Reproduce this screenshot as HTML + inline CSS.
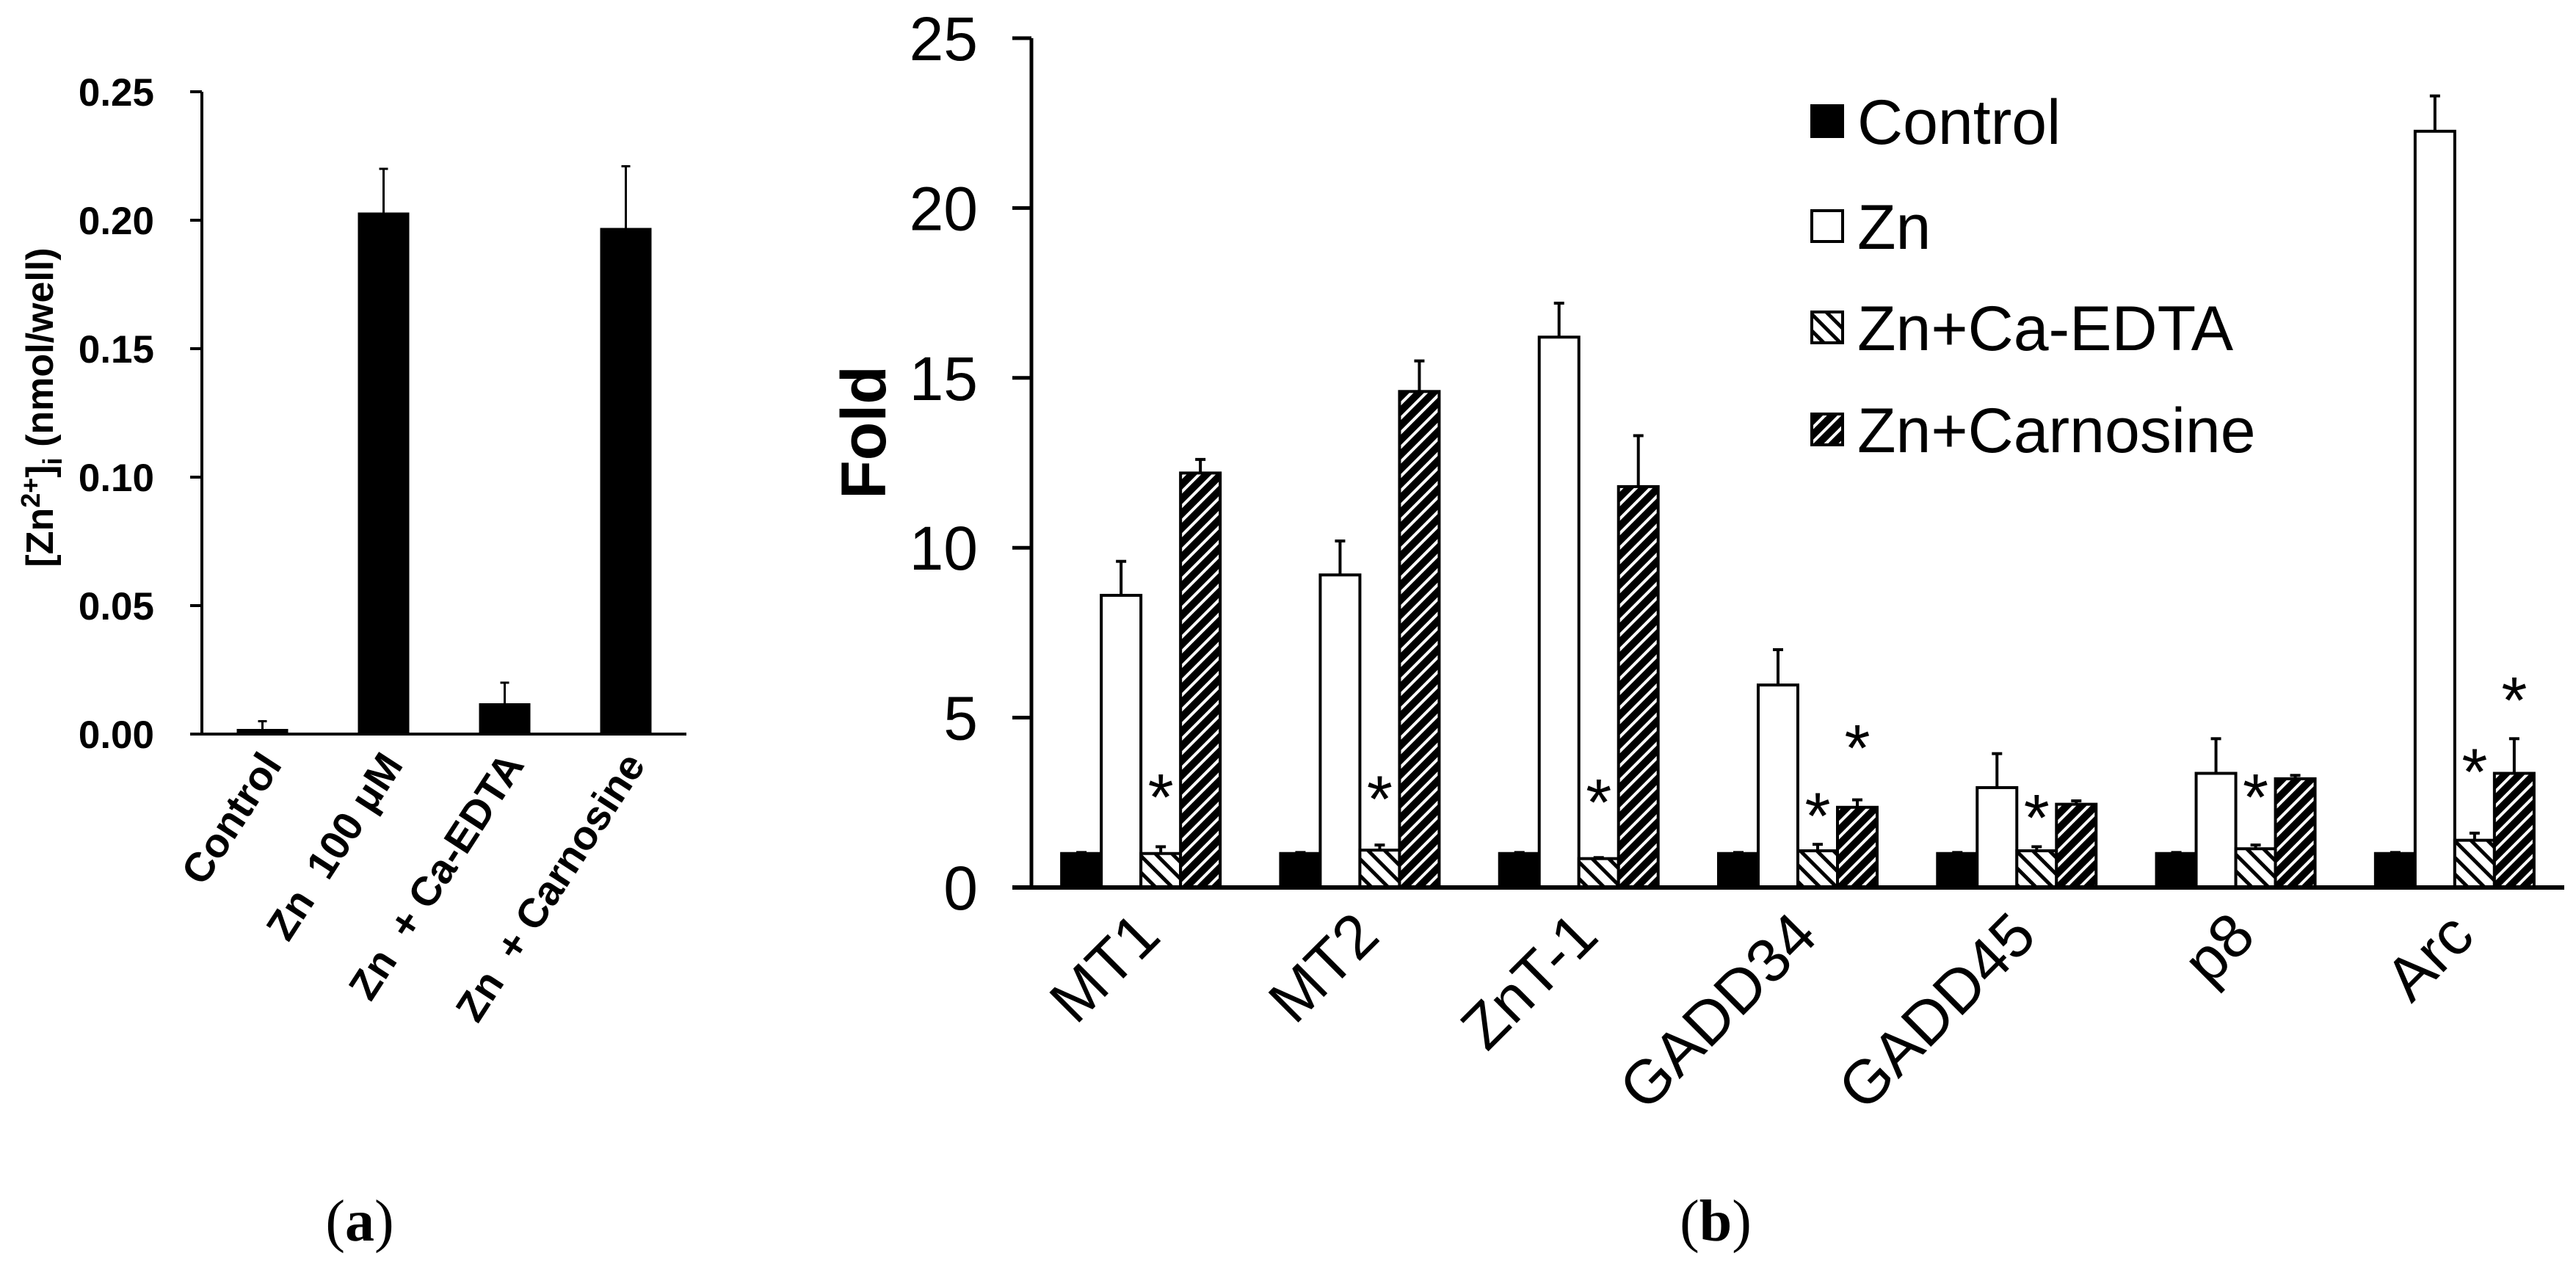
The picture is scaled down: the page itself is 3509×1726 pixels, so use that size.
<!DOCTYPE html>
<html><head><meta charset="utf-8"><style>
html,body{margin:0;padding:0;background:#fff;}
svg{display:block;font-family:"Liberation Sans",Arial,sans-serif;}
</style></head><body>
<svg id="fig" width="3509" height="1726" viewBox="0 0 3509 1726" xmlns="http://www.w3.org/2000/svg">
<defs>
<pattern id="hatchBack" patternUnits="userSpaceOnUse" width="16" height="16" patternTransform="rotate(-45)">
<rect width="16" height="16" fill="#fff"/><rect x="0" y="0" width="5" height="16" fill="#000"/></pattern>
<pattern id="hatchFwd" patternUnits="userSpaceOnUse" width="14" height="14" patternTransform="rotate(45)">
<rect width="14" height="14" fill="#000"/><rect x="0" y="0" width="4" height="14" fill="#fff"/></pattern>
</defs>
<g id="panelA"></g>
<g id="panelB"></g>
<text x="490" y="1690" font-family="Liberation Serif,serif" font-size="80" text-anchor="middle">(<tspan font-weight="bold">a</tspan>)</text>
<text x="2337" y="1690" font-family="Liberation Serif,serif" font-size="80" text-anchor="middle">(<tspan font-weight="bold">b</tspan>)</text>
</svg>
<script>
// Panel A data
const aCategories = ["Control", "Zn\u00a0\u00a0100 μM", "Zn\u00a0\u00a0+ Ca-EDTA", "Zn\u00a0\u00a0+ Carnosine"];
const aValues = [0.002, 0.203, 0.012, 0.197];
const aErrTop = [0.005, 0.220, 0.020, 0.221];
const aTicks = ["0.00", "0.05", "0.10", "0.15", "0.20", "0.25"];

// Panel B data
const bCategories = ["MT1", "MT2", "ZnT-1", "GADD34", "GADD45", "p8", "Arc"];
const bSeries = ["Control", "Zn", "Zn+Ca-EDTA", "Zn+Carnosine"];
const bControl = [1, 1, 1, 1, 1, 1, 1];
const bZn = [8.6, 9.2, 16.2, 5.96, 2.94, 3.36, 22.26];
const bCaEDTA = [1.0, 1.1, 0.85, 1.08, 1.08, 1.14, 1.39];
const bCarnosine = [12.2, 14.6, 11.8, 2.36, 2.45, 3.2, 3.36];
const bControlErr = [1.03, 1.03, 1.03, 1.03, 1.03, 1.03, 1.03];
const bZnErr = [9.6, 10.2, 17.2, 7.0, 3.94, 4.38, 23.3];
const bCaEDTAErr = [1.2, 1.25, 0.88, 1.27, 1.2, 1.25, 1.6];
const bCarnosineErr = [12.6, 15.5, 13.3, 2.58, 2.55, 3.3, 4.38];
const bStarCa = [2.85, 2.8, 2.7, 2.3, 2.25, 2.85, 3.6];
const bStarCarn = [null, null, null, 4.3, null, null, 5.7];
const bTicks = ["0", "5", "10", "15", "20", "25"];

const NS = "http://www.w3.org/2000/svg";
function mk(parent, tag, attrs, text) {
  const el = document.createElementNS(NS, tag);
  for (const k in attrs) el.setAttribute(k, attrs[k]);
  if (text !== undefined) el.textContent = text;
  parent.appendChild(el);
  return el;
}

// ---- Panel A ----
(function(){
  const g = document.getElementById('panelA');
  const x0 = 275, x1 = 935, y0 = 1000, yTop = 125, vmax = 0.25;
  const ya = v => y0 - (v / vmax) * (y0 - yTop);
  const step = (x1 - x0) / aCategories.length;
  const xc = i => x0 + step * (i + 0.5);
  const bw = 70;
  let ax = mk(g, 'line', {x1: x0, y1: yTop, x2: x0, y2: y0, stroke: '#000', 'stroke-width': 4});
  
  
  ax = mk(g, 'line', {x1: x0 - 16, y1: y0, x2: x1, y2: y0, stroke: '#000', 'stroke-width': 4});
  
  
  aTicks.forEach((t) => {
    const y = ya(parseFloat(t));
    const tk = mk(g, 'line', {x1: x0 - 16, y1: y, x2: x0, y2: y, stroke: '#000', 'stroke-width': 4});
    
    
    const lb = mk(g, 'text', {x: 210, y: y + 19, 'font-size': 53, 'font-weight': 'bold', 'text-anchor': 'end'}, t);
    
    
  });
  aValues.forEach((v, i) => {
    const cx = xc(i);
    const e = mk(g, 'line', {x1: cx, y1: ya(aErrTop[i]), x2: cx, y2: ya(v), stroke: '#000', 'stroke-width': 3});
    
    
    const c = mk(g, 'line', {x1: cx - 6, y1: ya(aErrTop[i]), x2: cx + 6, y2: ya(aErrTop[i]), stroke: '#000', 'stroke-width': 3});
    
    
    const r = mk(g, 'rect', {x: cx - bw / 2, y: ya(v), width: bw, height: y0 - ya(v), fill: '#000'});
    
    
    const lb = mk(g, 'text', {x: 0, y: 0, 'font-size': 56, 'font-weight': 'bold', 'text-anchor': 'end',
      transform: 'translate(' + (cx + 28) + ',' + (y0 + 42) + ') rotate(-57)'}, aCategories[i]);
    
    
  });
  const yt = mk(g, 'text', {x: 0, y: 0, 'font-size': 52, 'font-weight': 'bold', 'text-anchor': 'middle',
    transform: 'translate(72,555) rotate(-90)'});
  
  
  yt.innerHTML = '[Zn<tspan dy="-18" font-size="36">2+</tspan><tspan dy="18">]</tspan><tspan dy="12" font-size="36">i</tspan><tspan dy="-12"> (nmol/well)</tspan>';
})();

// ---- Panel B ----
(function(){
  const g = document.getElementById('panelB');
  const x0 = 1405, x1 = 3493, y0 = 1209, yTop = 52, vmax = 25;
  const yb = v => y0 - (v / vmax) * (y0 - yTop);
  const step = (x1 - x0) / bCategories.length;
  const xc = i => x0 + step * (i + 0.5);
  const bw = 54;
  const vals = [bControl, bZn, bCaEDTA, bCarnosine];
  const errs = [bControlErr, bZnErr, bCaEDTAErr, bCarnosineErr];
  const fills = ['#000', '#fff', 'url(#hatchBack)', 'url(#hatchFwd)'];
  let ax = mk(g, 'line', {x1: x0, y1: yTop, x2: x0, y2: y0, stroke: '#000', 'stroke-width': 5});
  
  
  bTicks.forEach((t) => {
    const y = yb(parseFloat(t));
    const tk = mk(g, 'line', {x1: x0 - 26, y1: y, x2: x0, y2: y, stroke: '#000', 'stroke-width': 5});
    
    
    const lb = mk(g, 'text', {x: 1332, y: y + 30, 'font-size': 84, 'text-anchor': 'end'}, t);
    
    
  });
  bCategories.forEach((cat, i) => {
    const cx = xc(i);
    vals.forEach((arr, s) => {
      const bx = cx - 2 * bw + s * bw;
      const bxc = bx + bw / 2;
      const et = yb(errs[s][i]);
      const e = mk(g, 'line', {x1: bxc, y1: et, x2: bxc, y2: yb(arr[i]), stroke: '#000', 'stroke-width': 4});
      
      
      const c = mk(g, 'line', {x1: bxc - 7, y1: et, x2: bxc + 7, y2: et, stroke: '#000', 'stroke-width': 4});
      
      
      const r = mk(g, 'rect', {x: bx, y: yb(arr[i]), width: bw, height: y0 - yb(arr[i]), fill: fills[s], stroke: '#000', 'stroke-width': 4});
      
      
    });
    if (bStarCa[i] !== null) {
      const st = mk(g, 'text', {x: cx + bw / 2, y: yb(bStarCa[i]) + 40, 'font-size': 90, 'text-anchor': 'middle'}, '*');
      
      
    }
    if (bStarCarn[i] !== null) {
      const st = mk(g, 'text', {x: cx + 1.5 * bw, y: yb(bStarCarn[i]) + 40, 'font-size': 90, 'text-anchor': 'middle'}, '*');
      
      
    }
    const lb = mk(g, 'text', {x: 0, y: 0, 'font-size': 84, 'text-anchor': 'end',
      transform: 'translate(' + (cx + 30) + ',' + (y0 + 70) + ') rotate(-45)'}, cat);
    
    
  });
  ax = mk(g, 'line', {x1: x0 - 26, y1: y0, x2: x1, y2: y0, stroke: '#000', 'stroke-width': 6});
  
  
  const yt = mk(g, 'text', {x: 0, y: 0, 'font-size': 86, 'font-weight': 'bold', 'text-anchor': 'middle',
    transform: 'translate(1206,589) rotate(-90)'}, 'Fold');
  
  
  const legY = [165, 308, 446, 585];
  bSeries.forEach((name, s) => {
    const sw = mk(g, 'rect', {x: 2468, y: legY[s] - 21, width: 42, height: 42, fill: fills[s], stroke: '#000', 'stroke-width': 4});
    
    
    const t = mk(g, 'text', {x: 2530, y: legY[s] + 31, 'font-size': 86}, name);
    
    
  });
})();
</script>
</body></html>
